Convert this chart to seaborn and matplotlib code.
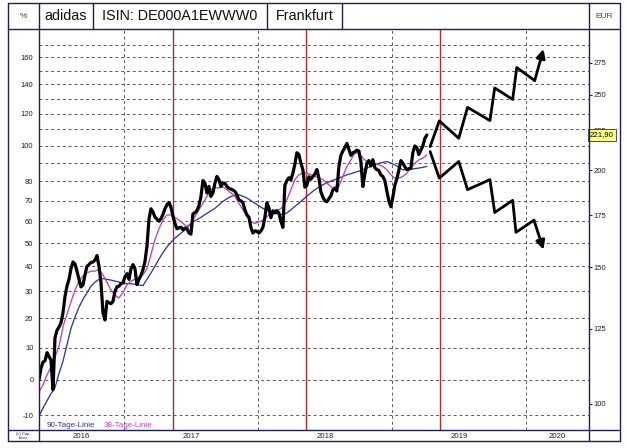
import numpy as np
import pandas as pd
import matplotlib
matplotlib.use("Agg")
import matplotlib.pyplot as plt
import matplotlib.dates as mdates
import matplotlib.transforms as mtrans
from matplotlib.lines import Line2D
import seaborn as sns

sns.set_style("white")
plt.rcParams['font.family'] = ['Liberation Sans', 'DejaVu Sans']

# ---------------- data ----------------
header_cells = ["%", "adidas", "ISIN: DE000A1EWWW0", "Frankfurt", "", "EUR"]
base_price = 107.4          # EUR price that corresponds to 0 %
last_price = 221.90
last_price_label = "221,90"

price_start, price_end = "2016-05-13", "2019-04-05"
price_pct = [
    0, 3.5, 5.4, 5.8, 8.4, 7.2, 6, -2.9, 13.3, 15.8,
    17, 18.4, 22, 28, 32, 34.7, 39, 41.8, 41, 38,
    34.7, 31.7, 32.5, 36.5, 40, 40.7, 41.6, 41.8, 42.6, 44.5,
    40, 33.5, 22, 19.4, 26.2, 25.7, 25.3, 26.2, 30, 31.8,
    32, 33, 33.3, 35.7, 37, 34.7, 39, 40.7, 39, 32.6,
    34.7, 36.3, 38.6, 42, 48.5, 60.8, 66, 64.5, 62, 61,
    60, 61.2, 63.3, 66, 68, 69.2, 66.8, 62.5, 59, 56.5,
    56.9, 57.2, 56, 56.8, 56.5, 54.6, 54, 63.5, 64.2, 65,
    67.5, 72, 80.5, 79.1, 74, 77.4, 72.2, 74, 79.1, 82.7,
    81, 77.4, 79.1, 79.1, 77.4,
    76.4, 76, 75.5, 74.8, 73, 70.5, 70, 69, 65.5, 63,
    62, 57.1, 54.5, 55.5, 55.3, 54.5, 55.5, 57.1, 62, 69,
    66.5, 61.7, 65, 64, 65, 64, 60, 57.1, 78, 80.5,
    82, 80.9, 84.5, 89.5, 96, 95, 90, 86.4, 77, 78,
    82.5, 81.2, 82.7, 84, 86.5, 82, 74.5, 71.8, 70, 69.5,
    71, 72.5, 75.5, 76.5, 75, 88, 94.5, 97, 99, 101.5,
    98, 94.5, 96, 96.5, 97.5, 97, 91, 77.3, 84, 90,
    91.5, 88.5, 92, 87.5, 86.4, 86, 83.5, 82.7, 80.5, 75,
    70, 67, 71.8, 78, 81.5, 86, 91.5, 90, 88, 86.4,
    87, 87, 96, 100, 99, 95, 97.5, 100, 104.5, 106.6,
]

ma_start, ma_end = "2016-05-13", "2019-04-05"
ma38_pct = [
    -3.5, -1.5, 1.5, 3.8, 7, 10.5, 17, 21.5, 26, 30.5,
    34, 36, 37.3, 38, 38, 38.7, 36.5, 33.5, 30.5, 28.5,
    27.5, 29.5, 32.5, 34, 34.7, 35.5, 36.5, 39, 45, 51.5,
    56.5, 60.5, 63, 63, 61.8, 60.5, 59, 57.5, 59, 62.2,
    65.5, 68.8, 72.2, 75.7, 76.6, 76.6, 77.1, 75.7, 74, 72.2,
    68.8, 65.5, 62.2, 59.7, 59, 59.7, 60.5, 62.2, 63.8, 65.5,
    65.5, 67, 70.5, 75.7, 81, 83.6, 84.5, 84.5, 83.6, 82.7,
    81.8, 81, 79.1, 77.4, 75.7, 77.4, 82.7, 88.2, 91.9, 95.8,
    95.8, 92.9, 90.9, 90, 90, 89.1, 88.2, 86.4, 83.6, 81.8,
    81.8, 82.7, 84.5, 87.3, 90, 91.9, 92.9, 94.8,
]
ma90_pct = [
    -10.2, -8, -6, -4, -2.2, 1.9, 5.7, 11, 16.5, 20.5,
    24, 27, 29.4, 32, 33.6, 34.7, 35, 34.7, 34.4, 34,
    33.6, 33.3, 33, 33, 32.7, 32.5, 32.2, 34.7, 37.3, 40,
    43, 45.8, 48.3, 50.3, 52.2, 53.7, 55.2, 56.7, 59, 60.2,
    61.3, 62.5, 63.8, 65, 66.2, 68, 69.7, 71, 72.2, 72.8,
    73.1, 72.3, 71.4, 70, 68.8, 67.5, 66.2, 65.4, 64.6, 64,
    63.4, 63.1, 64, 65.5, 67.2, 68.8, 70.5, 72.4, 74, 75.7,
    77, 78.3, 79.3, 80.2, 81, 81.8, 82.7, 83.6, 84.2, 84.9,
    85.6, 86.4, 87.3, 88.2, 89.1, 90, 90.5, 91, 90.1, 89.1,
    87.7, 86.4, 86.5, 86.7, 87, 87.3, 87.7, 88.2,
]

up_dates = ["2019-04-14", "2019-05-09", "2019-07-01", "2019-07-25", "2019-09-24",
            "2019-10-07", "2019-11-25", "2019-12-06", "2020-01-24", "2020-02-17"]
up_pct = [99.6, 115.4, 104.6, 124.2, 115.6, 137.5, 129.5, 152.3, 142.7, 166.5]
down_dates = ["2019-04-14", "2019-05-09", "2019-07-01", "2019-07-25", "2019-09-24",
              "2019-10-07", "2019-11-25", "2019-12-04", "2020-01-22", "2020-02-17"]
down_pct = [96.7, 81.8, 91, 75.7, 81, 64.2, 70.2, 54.8, 60.5, 47.1]

anniversary_dates = ["2017-05-12", "2018-05-11", "2019-05-11"]
year_labels = ["2016", "2017", "2018", "2019", "2020"]
pct_grid = list(range(-10, 171, 10))
pct_labels = [-10, 0, 10, 20, 30, 40, 50, 60, 70, 80, 100, 120, 140, 160]
eur_ticks = [100, 125, 150, 175, 200, 225, 250, 275]
x_range = ("2016-05-13", "2020-06-20")
pct_range = (-13.8, 182.8)
legend_texts = ["90-Tage-Linie", "38-Tage-Linie"]
copyright_text = "(c) Cap-\ntimer"

# ---------------- styling ----------------
NAVY = "#1e1e5c"
C_PRICE = "black"
C_MA38 = "#c23fc2"
C_MA90 = "#3535a5"
C_RED = "#b22a2a"
C_GRID = "#5a5a5a"

W, H = 626, 448
fig = plt.figure(figsize=(W / 100, H / 100), dpi=100)
fig.patch.set_facecolor("white")

def fx(px):
    return px / W

def fy(py):
    return 1 - py / H

L, R, T, B = 39, 589, 29, 430
ax = fig.add_axes([fx(L), fy(B), fx(R) - fx(L), fy(T) - fy(B)])

def fwd(p):
    return np.log(np.clip(1 + np.asarray(p, dtype=float) / 100.0, 1e-6, None))

def inv(v):
    return (np.exp(np.asarray(v, dtype=float)) - 1) * 100.0

ax.set_yscale("function", functions=(fwd, inv))

df_price = pd.DataFrame({"date": pd.date_range(price_start, price_end, periods=len(price_pct)),
                         "pct": price_pct})
ma_dates = pd.date_range(ma_start, ma_end, periods=len(ma38_pct))
df_ma = pd.DataFrame({"date": ma_dates, "ma38": ma38_pct, "ma90": ma90_pct})

for d in anniversary_dates:
    ax.axvline(pd.Timestamp(d), color=C_RED, lw=1.0, zorder=1.5)

sns.lineplot(data=df_ma, x="date", y="ma90", ax=ax, color=C_MA90, lw=0.95,
             estimator=None, zorder=2)
sns.lineplot(data=df_ma, x="date", y="ma38", ax=ax, color=C_MA38, lw=0.95,
             estimator=None, zorder=2.1)
sns.lineplot(data=df_price, x="date", y="pct", ax=ax, color=C_PRICE, lw=2.3,
             estimator=None, zorder=3)

# scenario zigzag arrows
for dates, vals in ((up_dates, up_pct), (down_dates, down_pct)):
    dts = pd.to_datetime(dates)
    sns.lineplot(x=dts[:-1], y=vals[:-1], ax=ax, color="black", lw=2.0,
                 sort=False, estimator=None, zorder=3)
    ax.annotate("", xy=(mdates.date2num(dts[-1]), vals[-1]),
                xytext=(mdates.date2num(dts[-2]), vals[-2]),
                arrowprops=dict(arrowstyle="-|>", color="black", lw=2.0,
                                mutation_scale=13, shrinkA=0, shrinkB=0),
                zorder=3)

ax.set_xlim(pd.Timestamp(x_range[0]), pd.Timestamp(x_range[1]))
ax.set_ylim(*pct_range)
ax.set_xlabel("")
ax.set_ylabel("")

ax.set_yticks(pct_grid)
ax.set_yticklabels([str(v) if v in pct_labels else "" for v in pct_grid])
ax.yaxis.set_minor_locator(matplotlib.ticker.NullLocator())
ax.tick_params(axis="y", length=0, pad=4, labelsize=5.5, labelcolor="#222222")

ax.xaxis.set_major_locator(mdates.YearLocator())
ax.xaxis.set_minor_locator(mdates.MonthLocator())
ax.xaxis.set_major_formatter(matplotlib.ticker.NullFormatter())
ax.xaxis.set_minor_formatter(matplotlib.ticker.NullFormatter())
ax.tick_params(axis="x", which="major", direction="out", length=8.0, width=1.0, color=NAVY)
ax.tick_params(axis="x", which="minor", direction="out", length=2.4, width=0.7, color=NAVY)

ax.grid(True, axis="both", which="major", color=C_GRID, lw=0.7, ls=(0, (3, 3)))
ax.set_axisbelow(True)
for s in ax.spines.values():
    s.set_visible(False)

# right EUR axis
ax2 = ax.twinx()
ax2.set_yscale("log")
ax2.set_ylim(base_price * (1 + pct_range[0] / 100), base_price * (1 + pct_range[1] / 100))
ax2.set_yticks(eur_ticks)
ax2.set_yticklabels([str(v) for v in eur_ticks])
ax2.yaxis.set_minor_locator(matplotlib.ticker.NullLocator())
ax2.tick_params(axis="y", which="major", direction="out", length=1.8, width=0.8,
                color="#222222", pad=1.5, labelsize=5.5, labelcolor="#222222")
for s in ax2.spines.values():
    s.set_visible(False)

ax2.text(1.0 + 1.0 / (R - L), last_price, last_price_label,
         transform=mtrans.blended_transform_factory(ax.transAxes, ax2.transData),
         ha="left", va="center", fontsize=5.6, color="black", clip_on=False, zorder=10,
         bbox=dict(boxstyle="square,pad=0.3", fc="#ffff88", ec="#333333", lw=0.6))

# year labels in the bottom band
xl0, xl1 = ax.get_xlim()
for y in year_labels:
    a = max(mdates.date2num(pd.Timestamp(f"{y}-01-01")), xl0)
    b = min(mdates.date2num(pd.Timestamp(f"{int(y) + 1}-01-01")), xl1)
    ax.text((a + b) / 2, -6.2 / (B - T), y, transform=ax.get_xaxis_transform(),
            ha="center", va="center", fontsize=5.6, color="#222222", clip_on=False)

# legend texts
ax.text((47 - L) / (R - L), (B - 425) / (B - T), legend_texts[0], transform=ax.transAxes,
        ha="left", va="center", fontsize=5.8, color=C_MA90, zorder=6)
ax.text((104 - L) / (R - L), (B - 425) / (B - T), legend_texts[1], transform=ax.transAxes,
        ha="left", va="center", fontsize=5.8, color=C_MA38, zorder=6)

# ---------------- frame & header ----------------
def hline(py, x0, x1, lw=1.0):
    fig.add_artist(Line2D([fx(x0), fx(x1)], [fy(py), fy(py)], color=NAVY, lw=lw,
                          transform=fig.transFigure, zorder=20))

def vline(px, y0, y1, lw=1.0):
    fig.add_artist(Line2D([fx(px), fx(px)], [fy(y0), fy(y1)], color=NAVY, lw=lw,
                          transform=fig.transFigure, zorder=20))

FL, FR, FT, FB = 8, 620, 3, 441
hline(FT, FL, FR); hline(FB, FL, FR); hline(T, FL, FR); hline(B, FL, FR)
vline(FL, FT, FB); vline(FR, FT, FB); vline(L, FT, FB); vline(R, FT, FB)
cell_edges = [FL, L, 93, 267, 342, R, FR]
for e in cell_edges[2:5]:
    vline(e, FT, T)

header_sizes = [6, 10.4, 10.4, 10.4, 10.4, 6]
for i, txt in enumerate(header_cells):
    if not txt:
        continue
    cx = (cell_edges[i] + cell_edges[i + 1]) / 2
    fig.text(fx(cx), fy((FT + T) / 2 + 0.5), txt, ha="center", va="center",
             fontsize=header_sizes[i], color="#111111" if header_sizes[i] > 7 else "#444444")

fig.text(fx((FL + L) / 2), fy((B + FB) / 2), copyright_text, ha="center", va="center",
         fontsize=3.0, color=NAVY, linespacing=1.0)

fig.savefig("out.png", dpi=100, facecolor="white")
